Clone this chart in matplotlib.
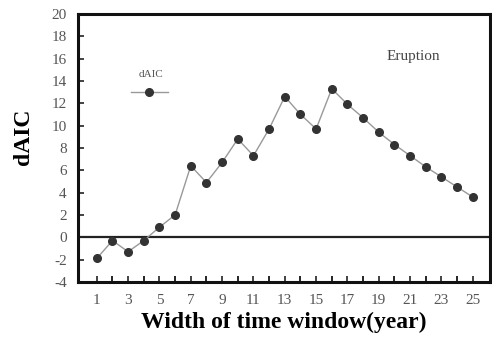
import numpy as np
import matplotlib.pyplot as plt

plt.rcParams['font.family'] = ['Liberation Serif', 'DejaVu Serif']
plt.rcParams['axes.unicode_minus'] = False

window = np.arange(1, 26)
daic = [-1.9, -0.3, -1.3, -0.3, 0.9, 2.0, 6.4, 4.9, 6.7, 8.8, 7.3, 9.7, 12.6,
        11.0, 9.7, 13.3, 11.9, 10.7, 9.4, 8.3, 7.3, 6.3, 5.4, 4.5, 3.6]
xticks = np.arange(1, 26, 2)
yticks = np.arange(-4, 21, 2)

fig = plt.figure(figsize=(4.92, 3.48), dpi=100)
ax = fig.add_axes([0.1585, 0.19, 0.8375, 0.77])

ax.axhline(0, color='#222222', lw=1.6, zorder=1)
ax.plot(window, daic, color='#999999', lw=1.0, marker='o', ms=5.5,
        mfc='#333333', mec='#333333', label=' ', zorder=3)

ax.set_xlim(-0.2, 26.1)
ax.set_ylim(-4, 20)
ax.set_xticks(xticks)
ax.set_xticks(window, minor=True)
ax.set_yticks(yticks)
ax.tick_params(direction='in', length=4, width=1.2, labelsize=11, colors='#222222')
ax.tick_params(which='minor', direction='in', length=4, width=1.2)
ax.tick_params(axis='x', pad=9)
ax.tick_params(axis='y', pad=8)
for lbl in ax.get_xticklabels() + ax.get_yticklabels():
    lbl.set_color('#555555')
for s in ax.spines.values():
    s.set_linewidth(2.2)
    s.set_color('#111111')

ax.set_xlabel('Width of time window(year)', fontsize=17, fontweight='bold', labelpad=3)
ax.set_ylabel('dAIC', fontsize=17, fontweight='bold')
ax.yaxis.set_label_coords(-0.107, 0.54)

leg = ax.legend(title='dAIC', loc='upper left', bbox_to_anchor=(0.114, 0.81),
                frameon=False, handlelength=3.4, handleheight=2.4, fontsize=8,
                title_fontsize=8, borderpad=0, handletextpad=0)
leg.get_title().set_color('#555555')

ax.text(0.815, 0.84, 'Eruption', transform=ax.transAxes, ha='center', va='center',
        fontsize=11, color='#444444')

fig.savefig('out.png', dpi=100)
